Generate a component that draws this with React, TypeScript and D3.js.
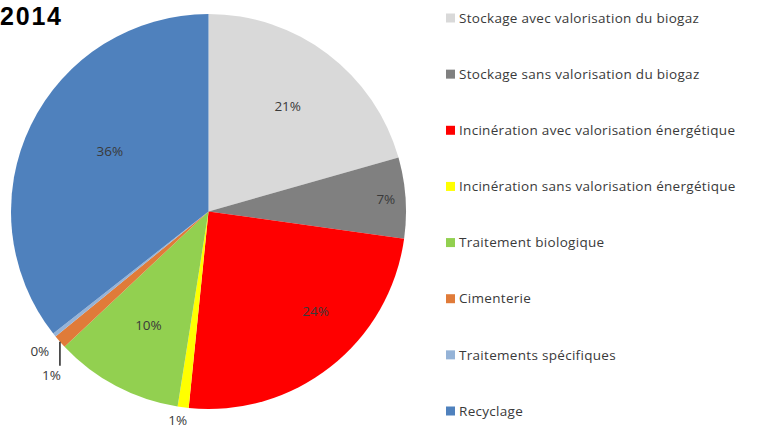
import React from "react";
import * as d3 from "d3";

const title = "2014";
const categories = [
  "Stockage avec valorisation du biogaz",
  "Stockage sans valorisation du biogaz",
  "Incinération avec valorisation énergétique",
  "Incinération sans valorisation énergétique",
  "Traitement biologique",
  "Cimenterie",
  "Traitements spécifiques",
  "Recyclage",
];
const values = [20.6, 6.6, 24.4, 0.9, 10.5, 1.1, 0.3, 35.6];
const labels = ["21%", "7%", "24%", "1%", "10%", "1%", "0%", "36%"];
const colors = ["#D9D9D9", "#808080", "#FF0000", "#FFFF00", "#92D050", "#E07B39", "#95B3D7", "#4F81BD"];
// label placement (fraction of radius, angle nudge in degrees)
const labelRadius = [0.665, 0.9, 0.74, 1.07, 0.65, 1.15, 1.11, 0.585];
const labelNudge = [0, 0, -9, 1, 0, -5, -1, 5.5];

const W = 770, H = 430;
const cx = 208.5, cy = 211.5, R = 197.5;

export default function App() {
  const pie = d3.pie<number>().sort(null).value((d) => d)(values);
  const arc = d3.arc<d3.PieArcDatum<number>>().innerRadius(0).outerRadius(R);
  const polar = (ang: number, r: number) => [r * Math.sin(ang), -r * Math.cos(ang)];
  const legendY = d3.scaleLinear().domain([0, categories.length - 1]).range([18, 411]);
  const orange = pie[5];
  const oMid = (orange.startAngle + orange.endAngle) / 2;
  const [lx, ly] = polar(oMid, R);
  return (
    <div style={{ position: "fixed", left: 0, top: 0 }}>
      <svg width={W} height={H} style={{ display: "block", background: "#fff" }}>
        <text x={0} y={25} fontFamily="Liberation Sans, Arial, sans-serif" fontWeight="bold" fontSize={25} letterSpacing={1.8} fill="#000">
          {title}
        </text>
        <g transform={`translate(${cx},${cy})`}>
          {pie.map((p, i) => (
            <path key={i} d={arc(p) || ""} fill={colors[i]} />
          ))}
          <line x1={lx} y1={ly} x2={lx} y2={ly + 24} stroke="#000" strokeWidth={1.3} />
          {pie.map((p, i) => {
            const mid = (p.startAngle + p.endAngle) / 2 + (labelNudge[i] * Math.PI) / 180;
            const [x, y] = polar(mid, R * labelRadius[i]);
            return (
              <text key={i} x={x} y={y} dy="0.35em" textAnchor="middle"
                fontFamily="Open Sans, sans-serif" fontSize={13.5} fill="#3a3a3a">
                {labels[i]}
              </text>
            );
          })}
        </g>
        <g>
          {categories.map((c, i) => (
            <g key={i} transform={`translate(446,${legendY(i)})`}>
              <rect x={0} y={-4.5} width={9} height={9} fill={colors[i]} />
              <text x={13} y={0} dy="0.35em" fontFamily="Open Sans, sans-serif" fontSize={13.5} letterSpacing={0.3} fill="#3a3a3a">
                {c}
              </text>
            </g>
          ))}
        </g>
      </svg>
    </div>
  );
}
